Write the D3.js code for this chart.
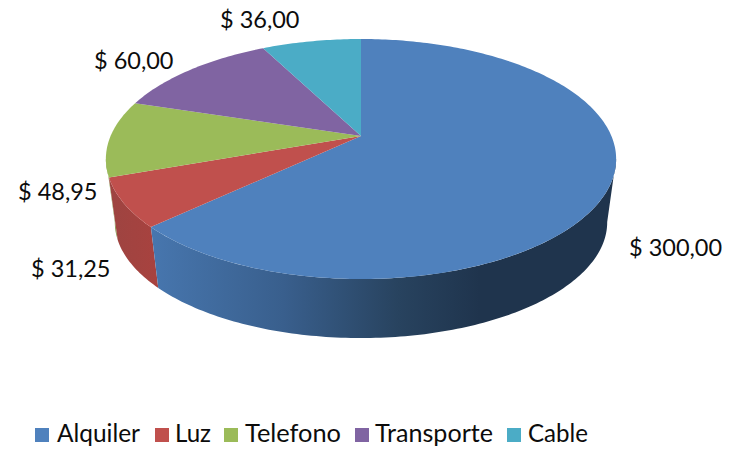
<!DOCTYPE html>
<html>
<head>
<meta charset="utf-8">
<script src="https://cdn.jsdelivr.net/npm/d3@7"></script>
<style>
  html, body { margin: 0; padding: 0; background: #fff; }
  text { font-family: Lato, "Open Sans", sans-serif; fill: #0c0c0c; }
</style>
</head>
<body>
<div class="chart"></div>
<script>
// Data
var categories = ["Alquiler", "Luz", "Telefono", "Transporte", "Cable"];
var amounts = [300, 31.25, 48.95, 60, 36];
var amountLabels = ["$ 300,00", "$ 31,25", "$ 48,95", "$ 60,00", "$ 36,00"];
var colors = ["#4f81bd", "#c0504d", "#9bbb59", "#8064a2", "#4bacc6"];

var svgWidth = 731;
var svgHeight = 449;

var svg = d3.select(".chart")
  .append("svg")
  .attr("width", svgWidth)
  .attr("height", svgHeight)
  .style("display", "block");

// Pie geometry, the disc is tilted with a bit of perspective
var cx = 361, cy = 136;
var radiusX = 250.4, radiusY = 115.6, tilt = -0.1917;
var sideScale = 0.965, sideShift = 68.8;

var pie = d3.pie().sort(null).value(d => d);
var arcs = pie(amounts);

function topPoint(angle) {
  var u = Math.sin(angle), v = -Math.cos(angle);
  var w = 1 + tilt * v;
  return [cx + radiusX * u / w, cy + radiusY * v / w];
}

function bottomPoint(angle) {
  var p = topPoint(angle);
  return [cx + (p[0] - cx) * sideScale, p[1] * sideScale + sideShift];
}

function sampleAngles(a0, a1) {
  var n = Math.max(2, Math.ceil(Math.abs(a1 - a0) * 60));
  return d3.range(n + 1).map(i => a0 + (a1 - a0) * i / n);
}

var line = d3.line();
var defs = svg.append("defs");

// Side gradient of the big slice, dark towards the right
var blueSide = defs.append("linearGradient")
  .attr("id", "blueSide")
  .attr("gradientUnits", "userSpaceOnUse")
  .attr("x1", 152).attr("x2", 480)
  .attr("y1", 0).attr("y2", 0);
blueSide.append("stop").attr("offset", 0).attr("stop-color", "#4776ae");
blueSide.append("stop").attr("offset", 0.4).attr("stop-color", "#395f8d");
blueSide.append("stop").attr("offset", 0.75).attr("stop-color", "#28435f");
blueSide.append("stop").attr("offset", 1).attr("stop-color", "#1f344d");

var redSide = defs.append("linearGradient")
  .attr("id", "redSide")
  .attr("gradientUnits", "userSpaceOnUse")
  .attr("x1", 112).attr("x2", 158)
  .attr("y1", 0).attr("y2", 0);
redSide.append("stop").attr("offset", 0).attr("stop-color", "#9e4441");
redSide.append("stop").attr("offset", 1).attr("stop-color", "#a8423f");

var sideFills = ["url(#blueSide)", "url(#redSide)", "#7d9a45"];

// Visible side walls: from the rightmost to the leftmost point of the outline
var rightmost = Math.PI / 2 + 0.19;
var leftmost = 3 * Math.PI / 2 - 0.19;
var sideGroup = svg.append("g");
[2, 1, 0].forEach(function(i) {
  var d = arcs[i];
  var start = i === 0 ? rightmost : d.startAngle;
  var end = i === 2 ? leftmost : d.endAngle;
  var angles = sampleAngles(start, end);
  var pts = angles.map(topPoint).concat(angles.slice().reverse().map(bottomPoint));
  sideGroup.append("path")
    .attr("d", line(pts) + "Z")
    .attr("fill", sideFills[i]);
});

// Top surface
svg.append("g")
  .selectAll("path")
  .data(arcs)
  .enter()
  .append("path")
  .attr("d", d => line([[cx, cy]].concat(sampleAngles(d.startAngle, d.endAngle).map(topPoint))) + "Z")
  .attr("fill", (d, i) => colors[i]);

// Value labels
var labelPos = [[629, 256], [31, 277], [18, 200], [94, 69], [220, 28]];
svg.append("g")
  .selectAll("text")
  .data(amountLabels)
  .enter()
  .append("text")
  .attr("x", (d, i) => labelPos[i][0])
  .attr("y", (d, i) => labelPos[i][1])
  .attr("font-size", 23.5)
  .text(d => d);

// Legend
var legendSwatchX = [35, 155, 224, 355, 507];
var legendTextX = [57, 175, 245, 375, 528];
var legendTextWidth = [83, 36, 96, 118, 60];
var legend = svg.append("g");
categories.forEach(function(name, i) {
  legend.append("rect")
    .attr("x", legendSwatchX[i])
    .attr("y", 428)
    .attr("width", 14)
    .attr("height", 14)
    .attr("fill", colors[i]);
  legend.append("text")
    .attr("x", legendTextX[i])
    .attr("y", 442)
    .attr("font-size", 24.5)
    .attr("textLength", legendTextWidth[i])
    .attr("lengthAdjust", "spacingAndGlyphs")
    .text(name);
});
</script>
</body>
</html>
